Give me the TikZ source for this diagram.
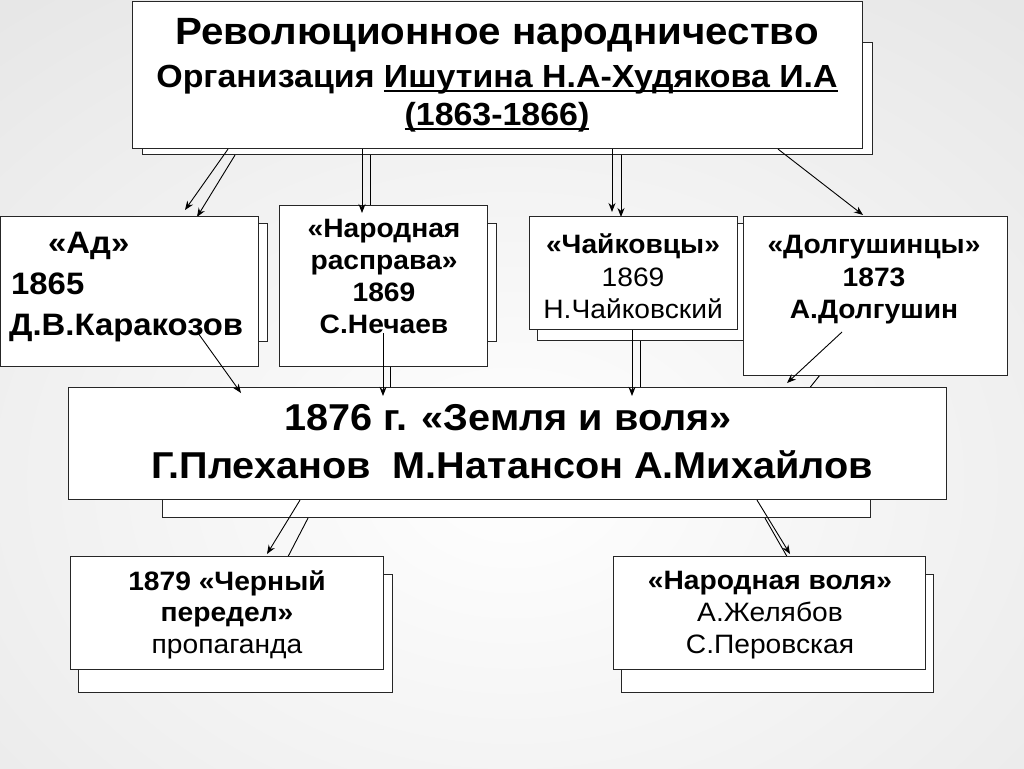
\documentclass[tikz,border=0pt]{standalone}
\usepackage{fontspec}
\setmainfont[FakeStretch=1.06]{Liberation Sans}
\newcommand{\myul}[1]{\setbox0\hbox{#1}\rlap{\rule[-4.5pt]{\wd0}{1.8pt}}\box0}
\usetikzlibrary{arrows.meta,calc}
\tikzset{
  box/.style={draw=black!85, fill=white, line width=1.1pt, inner sep=0pt, anchor=north west},
  txt/.style={inner sep=0pt, anchor=base},
  ltxt/.style={inner sep=0pt, anchor=base west},
  arr/.style={draw=black, line width=0.9pt, -{Stealth[length=9pt,width=7pt]}},
  fA/.style={font=\bfseries\fontsize{38}{44}\selectfont},
  fB/.style={font=\bfseries\fontsize{32}{38}\selectfont},
  fAd/.style={font=\bfseries\fontsize{31}{36}\selectfont},
  fC/.style={font=\bfseries\fontsize{26.6}{32}\selectfont},
  fCr/.style={font=\fontsize{26.6}{32}\selectfont},
  fD/.style={font=\bfseries\fontsize{37.4}{42}\selectfont},
  fE/.style={font=\bfseries\fontsize{26.6}{31}\selectfont},
  fEr/.style={font=\fontsize{26.6}{31}\selectfont},
}
\begin{document}
\begin{tikzpicture}[x=1pt,y=-1pt]
\useasboundingbox (0,0) rectangle (1024,768);
\begin{scope}
  \clip (0,0) rectangle (1024,768);
  \fill[black!12] (0,0) rectangle (1024,768);
  \shade[inner color=white, outer color=black!12] (-512,-288) rectangle (1536,1248);
\end{scope}

% back layer boxes
\node[box, minimum width=730pt, minimum height=112pt] (topB) at (142,42) {};
\node[box, minimum width=257pt, minimum height=118pt] (adB) at (10,223) {};
\node[box, minimum width=207pt, minimum height=118pt] (rasB) at (289,223) {};
\node[box, minimum width=213pt, minimum height=117pt] (chkB) at (537,223) {};
\node[box, minimum width=708pt, minimum height=117pt] (zemB) at (162,400) {};
\node[box, minimum width=314pt, minimum height=118pt] (chpB) at (78,574) {};
\node[box, minimum width=312pt, minimum height=118pt] (nvB) at (621,574) {};
\coordinate (dolB) at (828,365);

% back layer arrows
\draw[arr] ($(topB.south west)+(93,0)$) -- ($(adB.north west)+(187,-6)$);
\draw[arr] ($(topB.south west)+(228,0)$) -- ($(rasB.north west)+(81,-3)$);
\draw[arr] ($(topB.south west)+(479,0)$) -- ($(chkB.north west)+(84,-6)$);
\draw[arr] ($(rasB.south west)+(101,0)$) -- ($(zemB.north west)+(228,0)$);
\draw[arr] ($(chkB.south west)+(103,0)$) -- ($(zemB.north west)+(478,0)$);
\draw[arr] (dolB) -- ($(zemB.north west)+(638,0)$);
\draw[arr] ($(zemB.south west)+(146,0)$) -- ($(chpB.north west)+(201,0)$);
\draw[arr] ($(zemB.south west)+(603,0)$) -- ($(nvB.north west)+(176,0)$);

% front layer boxes
\node[box, minimum width=730pt, minimum height=147pt] (top) at (132,1) {};
\node[box, minimum width=258pt, minimum height=150pt] (ad) at (0,216) {};
\node[box, minimum width=208pt, minimum height=161pt] (ras) at (279,205) {};
\node[box, minimum width=208pt, minimum height=113pt] (chk) at (529,216) {};
\node[box, minimum width=264pt, minimum height=159pt] (dol) at (743,216) {};
\node[box, minimum width=878pt, minimum height=112pt] (zem) at (68,387) {};
\node[box, minimum width=313pt, minimum height=113pt] (chp) at (70,556) {};
\node[box, minimum width=312pt, minimum height=113pt] (nv) at (613,556) {};

% texts
\node[txt, fA] (t1) at (497,45) {Революционное народничество};
\node[txt, fB] (t2) at (497,87) {Организация \myul{Ишутина Н.А-Худякова И.А}};
\node[txt, fB] (t3) at (497,125) {\myul{(1863-1866)}};

\node[ltxt, fAd] (ad1) at (48,253) {«Ад»};
\node[ltxt, fAd] (ad2) at (11,294) {1865};
\node[ltxt, fAd] (ad3) at (9,335) {Д.В.Каракозов};

\node[txt, fC] (ras1) at (384,237) {«Народная};
\node[txt, fC] (ras2) at (384,269) {расправа»};
\node[txt, fC] (ras3) at (384,301) {1869};
\node[txt, fC] (ras4) at (384,333) {С.Нечаев};

\node[txt, fC] (chk1) at (633,253) {«Чайковцы»};
\node[txt, fCr] (chk2) at (633,286) {1869};
\node[txt, fCr] (chk3) at (633,318) {Н.Чайковский};

\node[txt, fC] (dol1) at (874,253) {«Долгушинцы»};
\node[txt, fC] (dol2) at (874,286) {1873};
\node[txt, fC] (dol3) at (874,318) {А.Долгушин};

\node[txt, fD] (z1) at (508,430) {1876 г. «Земля и воля»};
\node[txt, fD] (z2) at (512,478) {Г.Плеханов\ \ М.Натансон А.Михайлов};

\node[txt, fE] (chp1) at (227,590) {1879 «Черный};
\node[txt, fE] (chp2) at (227,621) {передел»};
\node[txt, fEr] (chp3) at (227,653) {пропаганда};

\node[txt, fE] (nv1) at (770,589) {«Народная воля»};
\node[txt, fEr] (nv2) at (770,621) {А.Желябов};
\node[txt, fEr] (nv3) at (770,653) {С.Перовская};

% front layer arrows
\draw[arr] ($(top.south west)+(96,0)$) -- ($(ad.north west)+(185,-6)$);
\draw[arr] ($(top.south west)+(230,0)$) -- ($(ras.north west)+(83,8)$);
\draw[arr] ($(top.south west)+(480,0)$) -- ($(chk.north west)+(83,-4)$);
\draw[arr] ($(top.south west)+(646,0)$) -- ($(dol.north west)+(120,-1)$);
\draw[arr] ($(ad.north west)+(198,117)$) -- ($(zem.north west)+(173,6)$);
\draw[arr] ($(ras.north west)+(104,128)$) -- ($(zem.north west)+(315,9)$);
\draw[arr] ($(chk.north west)+(103,114)$) -- ($(zem.north west)+(564,9)$);
\draw[arr] ($(dol.north west)+(99,116)$) -- ($(zem.north west)+(719,-4)$);
\draw[arr] ($(zem.south west)+(232,0)$) -- ($(chp.north west)+(197,-2)$);
\draw[arr] ($(zem.south west)+(689,0)$) -- ($(nv.north west)+(177,-2)$);
\end{tikzpicture}
\end{document}
